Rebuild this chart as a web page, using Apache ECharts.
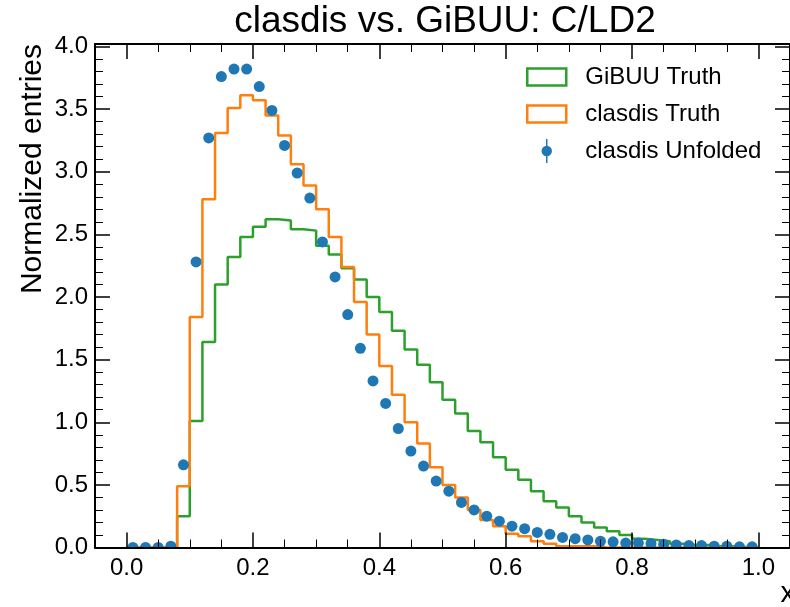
<!DOCTYPE html>
<html><head><meta charset="utf-8">
<script src="https://cdn.jsdelivr.net/npm/echarts@6/dist/echarts.min.js"></script>
<style>html,body{margin:0;padding:0;background:#fff}#c{width:790px;height:607px}</style>
</head><body><div id="c"></div>
<script>
// ---- data ----
const binEdges = [0.00,0.02,0.04,0.06,0.08,0.10,0.12,0.14,0.16,0.18,0.20,0.22,0.24,0.26,0.28,0.30,0.32,0.34,0.36,0.38,0.40,0.42,0.44,0.46,0.48,0.50,0.52,0.54,0.56,0.58,0.60,0.62,0.64,0.66,0.68,0.70,0.72,0.74,0.76,0.78,0.80,0.82,0.84,0.86,0.88,0.90,0.92,0.94,0.96,0.98,1.00];
const binCenters = [0.01,0.03,0.05,0.07,0.09,0.11,0.13,0.15,0.17,0.19,0.21,0.23,0.25,0.27,0.29,0.31,0.33,0.35,0.37,0.39,0.41,0.43,0.45,0.47,0.49,0.51,0.53,0.55,0.57,0.59,0.61,0.63,0.65,0.67,0.69,0.71,0.73,0.75,0.77,0.79,0.81,0.83,0.85,0.87,0.89,0.91,0.93,0.95,0.97,0.99];
const gibuuTruth = [0,0,0,0,0.25,1.01,1.64,2.10,2.32,2.48,2.56,2.62,2.61,2.54,2.53,2.41,2.34,2.23,2.14,2.00,1.88,1.73,1.58,1.46,1.32,1.18,1.07,0.93,0.84,0.72,0.62,0.54,0.45,0.37,0.32,0.25,0.20,0.16,0.13,0.10,0.07,0.06,0.05,0.03,0.02,0.02,0.01,0.01,0.005,0.0];
const clasdisTruth = [0,0,0,0.01,0.49,1.84,2.78,3.31,3.51,3.61,3.57,3.45,3.29,3.06,2.89,2.70,2.48,2.24,1.96,1.70,1.45,1.22,1.00,0.83,0.64,0.50,0.40,0.30,0.22,0.17,0.11,0.09,0.05,0.03,0.01,0.01,0.01,0,0,0,0,0,0,0,0,0,0,0,0,0];
const clasdisUnfolded = [0,0,0,0.01,0.66,2.28,3.27,3.76,3.82,3.82,3.68,3.49,3.21,2.99,2.79,2.44,2.16,1.86,1.59,1.33,1.15,0.95,0.77,0.65,0.53,0.45,0.36,0.30,0.25,0.21,0.17,0.15,0.12,0.105,0.08,0.07,0.06,0.05,0.045,0.035,0.035,0.03,0.025,0.02,0.015,0.015,0.01,0.01,0.005,0.005];
const xMajorTicks = [0.0,0.2,0.4,0.6,0.8,1.0];
const xMinorTicks = [0.05,0.1,0.15,0.25,0.3,0.35,0.45,0.5,0.55,0.65,0.7,0.75,0.85,0.9,0.95];
const yMajorTicks = [0.0,0.5,1.0,1.5,2.0,2.5,3.0,3.5,4.0];
const yMinorTicks = [0.1,0.2,0.3,0.4,0.6,0.7,0.8,0.9,1.1,1.2,1.3,1.4,1.6,1.7,1.8,1.9,2.1,2.2,2.3,2.4,2.6,2.7,2.8,2.9,3.1,3.2,3.3,3.4,3.6,3.7,3.8,3.9];
const seriesNames = ['GiBUU Truth','clasdis Truth','clasdis Unfolded'];
const titleText = 'clasdis vs. GiBUU: C/LD2';
const yLabelText = 'Normalized entries';
const xLabelText = 'x';

// ---- build ----
const FONT = '"Liberation Sans", Arial, Helvetica, sans-serif';
const GREEN = '#2ca02c', ORANGE = '#ff7f0e', BLUE = '#1f77b4';
function stepData(vals) {
  const d = [[binEdges[0], 0]];
  for (let i = 0; i < vals.length; i++) d.push([binEdges[i], vals[i]]);
  d.push([binEdges[binEdges.length - 1], vals[vals.length - 1]]);
  d.push([binEdges[binEdges.length - 1], 0]);
  return d;
}
const XMIN = -0.05, XMAX = 1.05, YMIN = 0, YMAX = 4.02;
function xAx(pos, ticks, len, labels, line) {
  return {
    type: 'value', position: pos, min: XMIN, max: XMAX, z: 20,
    axisLine: { show: line, onZero: false, lineStyle: { color: '#000', width: 2 } },
    axisTick: { show: true, inside: true, length: len, customValues: ticks, lineStyle: { color: '#000', width: len > 10 ? 1.5 : 1 } },
    axisLabel: labels ? { show: true, customValues: ticks, margin: 9, color: '#000', fontSize: 24, fontFamily: FONT, formatter: v => v.toFixed(1) } : { show: false },
    splitLine: { show: false }, minorTick: { show: false }
  };
}
function yAx(pos, ticks, len, labels, line) {
  return {
    type: 'value', position: pos, min: YMIN, max: YMAX, z: 20,
    axisLine: { show: line, onZero: false, lineStyle: { color: '#000', width: 2 } },
    axisTick: { show: true, inside: true, length: len, customValues: ticks, lineStyle: { color: '#000', width: len > 10 ? 1.5 : 1 } },
    axisLabel: labels ? { show: true, customValues: ticks, margin: 7, color: '#000', fontSize: 24, fontFamily: FONT, formatter: v => v.toFixed(1) } : { show: false },
    splitLine: { show: false }, minorTick: { show: false }
  };
}
const rectIcon = 'path://M0 0 L39 0 L39 17 L0 17 Z';
const errIcon = 'path://M4.3 0 L5.7 0 L5.7 6.6 L4.3 6.6 Z M4.3 16.4 L5.7 16.4 L5.7 23 L4.3 23 Z M0 11.5 A5 5 0 1 1 10 11.5 A5 5 0 1 1 0 11.5 Z';

const chart = echarts.init(document.getElementById('c'), null, { renderer: 'canvas' });
chart.setOption({
  animation: false,
  backgroundColor: '#fff',
  grid: { left: 95, right: -5, top: 44, bottom: 59.5, containLabel: false },
  xAxis: [
    xAx('bottom', xMajorTicks, 15, true, true),
    xAx('bottom', xMinorTicks, 8, false, false),
    xAx('top', xMajorTicks, 15, false, true),
    xAx('top', xMinorTicks, 8, false, false)
  ],
  yAxis: [
    yAx('left', yMajorTicks, 15, true, true),
    yAx('left', yMinorTicks, 8, false, false),
    yAx('right', yMajorTicks, 15, false, true),
    yAx('right', yMinorTicks, 8, false, false)
  ],
  legend: {
    orient: 'vertical', left: 526, top: 65, padding: 0, itemWidth: 39, itemHeight: 24, itemGap: 13,
    selectedMode: false,
    textStyle: { fontSize: 24, fontFamily: FONT, color: '#000', padding: [0, 0, 0, 14] },
    data: [
      { name: seriesNames[0], icon: rectIcon, itemStyle: { color: 'transparent', borderColor: GREEN, borderWidth: 2.5 } },
      { name: seriesNames[1], icon: rectIcon, itemStyle: { color: 'transparent', borderColor: ORANGE, borderWidth: 2.5 } },
      { name: seriesNames[2], icon: errIcon, itemStyle: { color: BLUE, borderWidth: 0, opacity: 1 } }
    ]
  },
  series: [
    { name: seriesNames[0], type: 'line', step: 'end', data: stepData(gibuuTruth), showSymbol: false, symbol: 'none',
      lineStyle: { color: GREEN, width: 2.5 }, itemStyle: { color: GREEN }, z: 2 },
    { name: seriesNames[1], type: 'line', step: 'end', data: stepData(clasdisTruth), showSymbol: false, symbol: 'none',
      lineStyle: { color: ORANGE, width: 2.5 }, itemStyle: { color: ORANGE }, z: 3 },
    { name: seriesNames[2], type: 'scatter', data: binCenters.map((x, i) => [x, clasdisUnfolded[i]]),
      symbol: 'circle', symbolSize: 11, itemStyle: { color: BLUE, opacity: 1 }, z: 4 }
  ],
  graphic: [
    { type: 'rect', z: 10, shape: { x: 95, y: 548.5, width: 700, height: 7 }, style: { fill: '#fff' }, silent: true },
    { type: 'text', x: 445, y: 22, style: { text: titleText, font: '37px ' + FONT, fill: '#000', align: 'center', verticalAlign: 'middle' } },
    { type: 'text', x: 33, y: 44, rotation: Math.PI / 2, style: { text: yLabelText, font: '30px ' + FONT, fill: '#000', align: 'right', verticalAlign: 'middle' } },
    { type: 'text', x: 795, y: 594, style: { text: xLabelText, font: '29px ' + FONT, fill: '#000', align: 'right', verticalAlign: 'middle' } }
  ]
});
</script></body></html>
